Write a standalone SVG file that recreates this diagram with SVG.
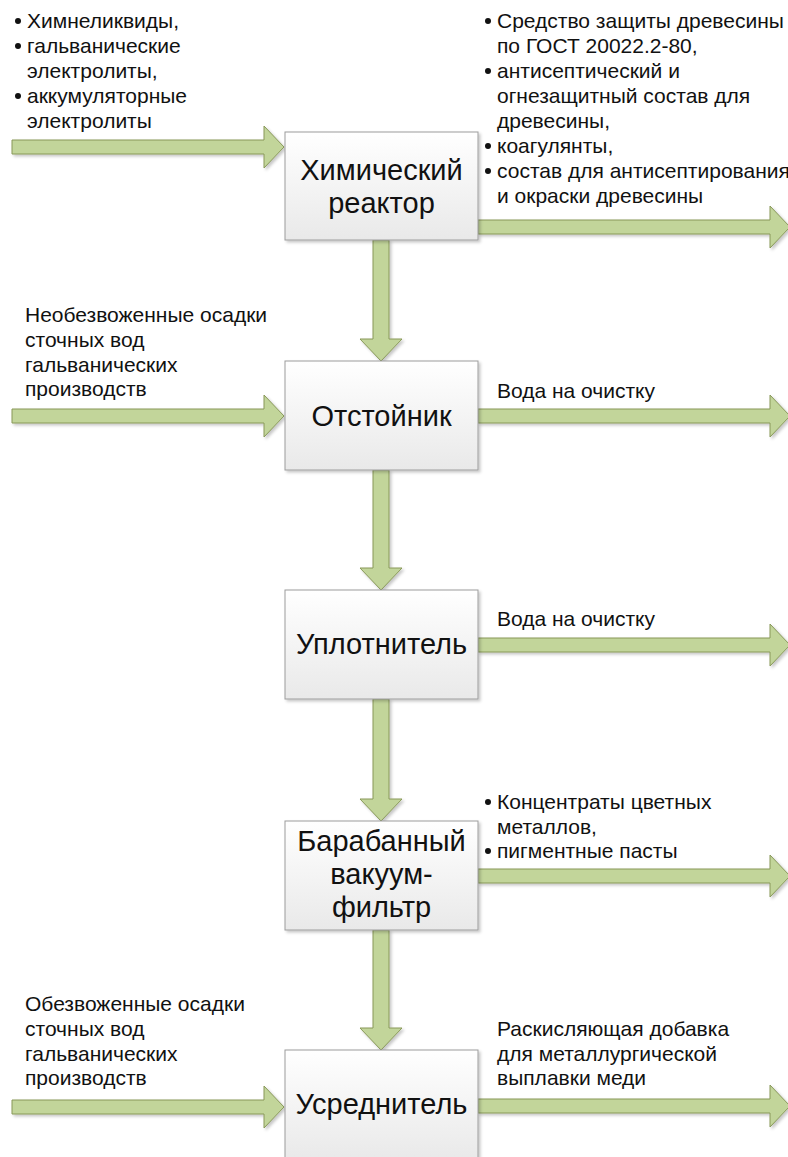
<svg xmlns="http://www.w3.org/2000/svg" width="788" height="1157" viewBox="0 0 788 1157">
<defs>
<linearGradient id="boxg" x1="0" y1="0" x2="0" y2="1">
<stop offset="0" stop-color="#ffffff"/>
<stop offset="1" stop-color="#e9e9e9"/>
</linearGradient>
<filter id="sh" x="-10%" y="-10%" width="130%" height="130%">
<feDropShadow dx="2" dy="2" stdDeviation="1.5" flood-color="#000" flood-opacity="0.22"/>
</filter>
</defs>
<style>
.box{fill:url(#boxg);stroke:#9c9c9c;stroke-width:1;filter:url(#sh)}
.arr{fill:#c2d59a;stroke:#889859;stroke-width:1;filter:url(#sh)}
.lbl{font-family:"Liberation Sans",Arial,sans-serif;font-size:29px;fill:#111;text-anchor:middle}
.t{font-family:"Liberation Sans",Arial,sans-serif;font-size:21px;fill:#111}
.b{fill:#111}
</style>
<rect width="788" height="1157" fill="#ffffff"/>
<g id="connectors">
<path class="arr" d="M12,140 H264 V126 L284,147 L264,168 V154 H12 Z"/>
<path class="arr" d="M12,409 H264 V395 L284,416 L264,437 V423 H12 Z"/>
<path class="arr" d="M12,1100 H264 V1086 L284,1107 L264,1128 V1114 H12 Z"/>
<path class="arr" d="M478,220 H770 V206 L790,227 L770,248 V234 H478 Z"/>
<path class="arr" d="M478,409 H770 V395 L790,416 L770,437 V423 H478 Z"/>
<path class="arr" d="M478,638 H770 V624 L790,645 L770,666 V652 H478 Z"/>
<path class="arr" d="M478,869 H770 V855 L790,876 L770,897 V883 H478 Z"/>
<path class="arr" d="M478,1099 H770 V1085 L790,1106 L770,1127 V1113 H478 Z"/>
<path class="arr" d="M373,240 V339 H360 L381,361 L402,339 H389 V240 Z"/>
<path class="arr" d="M373,470 V568 H360 L381,590 L402,568 H389 V470 Z"/>
<path class="arr" d="M373,699 V799 H360 L381,821 L402,799 H389 V699 Z"/>
<path class="arr" d="M373,930 V1028 H360 L381,1050 L402,1028 H389 V930 Z"/>
</g>
<g id="node-reactor">
<rect class="box" x="285" y="132" width="193" height="108"/>
<text class="lbl" x="381.5" y="180">Химический</text>
<text class="lbl" x="381.5" y="213">реактор</text>
</g>
<g id="node-settler">
<rect class="box" x="285" y="361" width="193" height="109"/>
<text class="lbl" x="381.5" y="426">Отстойник</text>
</g>
<g id="node-thickener">
<rect class="box" x="285" y="590" width="193" height="109"/>
<text class="lbl" x="381.5" y="654">Уплотнитель</text>
</g>
<g id="node-filter">
<rect class="box" x="285" y="821" width="193" height="109"/>
<text class="lbl" x="381.5" y="851">Барабанный</text>
<text class="lbl" x="381.5" y="884">вакуум-</text>
<text class="lbl" x="381.5" y="917">фильтр</text>
</g>
<g id="node-averager">
<rect class="box" x="285" y="1050" width="193" height="110"/>
<text class="lbl" x="381.5" y="1114">Усреднитель</text>
</g>
<g id="label-in-reactor">
<circle class="b" cx="18" cy="21" r="3"/>
<circle class="b" cx="18" cy="46" r="3"/>
<circle class="b" cx="18" cy="96" r="3"/>
<text class="t" x="27" y="28">Химнеликвиды,</text>
<text class="t" x="27" y="53">гальванические</text>
<text class="t" x="27" y="78">электролиты,</text>
<text class="t" x="27" y="103">аккумуляторные</text>
<text class="t" x="27" y="128">электролиты</text>
</g>
<g id="label-out-reactor">
<circle class="b" cx="488" cy="21" r="3"/>
<circle class="b" cx="488" cy="71" r="3"/>
<circle class="b" cx="488" cy="146" r="3"/>
<circle class="b" cx="488" cy="171" r="3"/>
<text class="t" x="497" y="28">Средство защиты древесины</text>
<text class="t" x="497" y="53">по ГОСТ 20022.2-80,</text>
<text class="t" x="497" y="78">антисептический и</text>
<text class="t" x="497" y="103">огнезащитный состав для</text>
<text class="t" x="497" y="128">древесины,</text>
<text class="t" x="497" y="153">коагулянты,</text>
<text class="t" x="497" y="178">состав для антисептирования</text>
<text class="t" x="497" y="203">и окраски древесины</text>
</g>
<g id="label-in-settler">
<text class="t" x="25" y="322">Необезвоженные осадки</text>
<text class="t" x="25" y="347">сточных вод</text>
<text class="t" x="25" y="372">гальванических</text>
<text class="t" x="25" y="396">производств</text>
</g>
<g id="label-out-settler">
<text class="t" x="497" y="398">Вода на очистку</text>
</g>
<g id="label-out-thickener">
<text class="t" x="497" y="626">Вода на очистку</text>
</g>
<g id="label-out-filter">
<circle class="b" cx="488" cy="802" r="3"/>
<circle class="b" cx="488" cy="851" r="3"/>
<text class="t" x="497" y="809">Концентраты цветных</text>
<text class="t" x="497" y="834">металлов,</text>
<text class="t" x="497" y="858">пигментные пасты</text>
</g>
<g id="label-in-averager">
<text class="t" x="25" y="1011">Обезвоженные осадки</text>
<text class="t" x="25" y="1036">сточных вод</text>
<text class="t" x="25" y="1061">гальванических</text>
<text class="t" x="25" y="1085">производств</text>
</g>
<g id="label-out-averager">
<text class="t" x="497" y="1036">Раскисляющая добавка</text>
<text class="t" x="497" y="1061">для металлургической</text>
<text class="t" x="497" y="1085">выплавки меди</text>
</g>
</svg>
